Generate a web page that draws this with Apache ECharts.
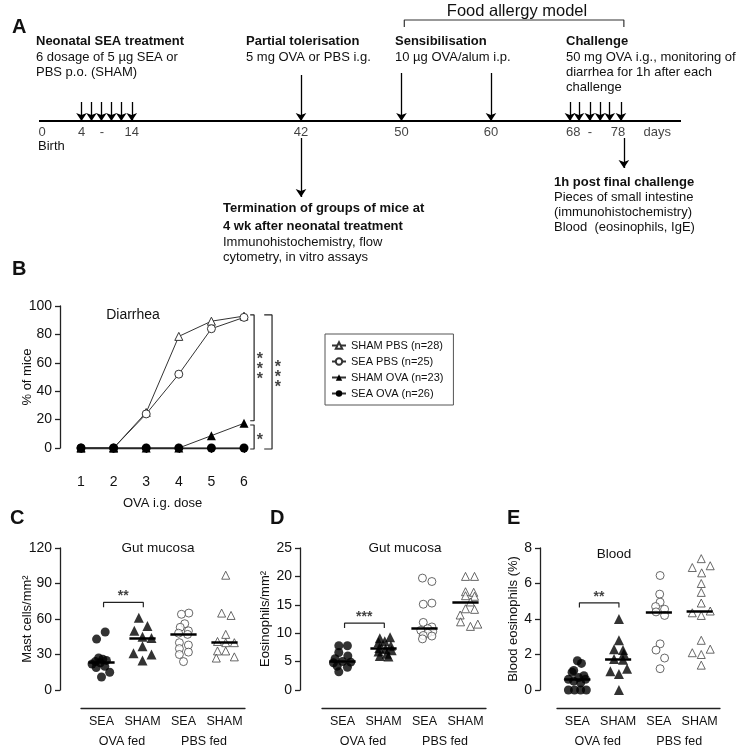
<!DOCTYPE html>
<html><head><meta charset="utf-8">
<script src="https://cdn.jsdelivr.net/npm/echarts@6/dist/echarts.min.js"></script>
<style>html,body{margin:0;padding:0;background:#fff}#c{width:743px;height:750px}</style>
</head><body><div id="c"></div>
<script>
// ---------- Panel A: timeline (schematic) ----------
const timelineTicks = ['0','4','-','14','42','50','60','68','-','78','days'];
const dosingDays = [4,6,8,10,12,14];
const challengeDays = [68,70,72,74,76,78];

// ---------- Panel B: diarrhea ----------
const doses = [1,2,3,4,5,6];
const shamPbs = [0,0,25,78.6,89.3,92.9];
const seaPbs  = [0,0,24,52,84,92];
const shamOva = [0,0,0,0,8.7,17.4];
const seaOva  = [0,0,0,0,0,0];
const legendNames = ['SHAM PBS (n=28)','SEA PBS (n=25)','SHAM OVA (n=23)','SEA OVA (n=26)'];

// ---------- Panels C-E: shared categories ----------
const groupLabels = ['SEA','SHAM','SEA','SHAM'];
const feedLabels = ['OVA fed','PBS fed'];

// C: mast cells / mm2
const mastSeaOva  = [49,43,27,26,25,24,23,22,20,19,15,11];
const mastShamOva = [61,54,50,45,44,37,31,30,25];
const mastSeaPbs  = [65,64,56,53,50,48,47,40,38,35,32,30,24];
const mastShamPbs = [97,65,63,47,41,40,40,33,33,28,27];
const mastSeaOvaJit  = [0.09,-0.12,-0.07,0.03,0.12,-0.15,-0.03,-0.23,0.08,-0.13,0.2,0];
const mastShamOvaJit = [-0.09,0.12,-0.2,0,0.22,0,-0.22,0.22,0];
const mastSeaPbsJit  = [0.13,-0.05,0.03,-0.08,0.12,-0.12,0.1,-0.1,0.12,-0.1,0.12,-0.1,0];
const mastShamPbsJit = [0.03,-0.07,0.16,0.03,-0.17,0.03,0.24,-0.17,0.03,0.24,-0.2];

// D: eosinophils / mm2
const eoSeaOva  = [7.8,7.8,6.6,6.0,5.5,5.0,4.9,4.8,4.2,4.0,3.2];
const eoShamOva = [9.3,9.1,8.6,8.4,7.8,7.4,7.2,7.0,6.8,6.4,6.0,5.9];
const eoSeaPbs  = [19.7,19.1,15.3,15.1,11.9,11.1,10.8,10.5,10.3,10.0,9.6,9.5,9.0];
const eoShamPbs = [20.0,20.0,17.3,17.2,16.6,16.5,15.5,14.3,14.2,13.2,12.0,11.6,11.2];
const eoSeaOvaJit  = [-0.09,0.12,-0.09,0.13,-0.18,0,0.2,-0.22,-0.13,0.12,-0.09];
const eoShamOvaJit = [0.16,-0.09,0.03,-0.12,0.18,-0.1,0.05,0.2,-0.12,0.08,-0.09,0.12];
const eoSeaPbsJit  = [-0.05,0.18,0.18,-0.03,-0.03,0.18,0.08,-0.09,0.2,0.08,-0.03,0.18,-0.05];
const eoShamPbsJit = [0,0.22,0,0.2,0,0.22,0.12,0,0.22,-0.13,-0.12,0.3,0.12];

// E: blood eosinophils (%)
const bloodSeaOva  = [1.65,1.5,1.1,1.0,0.8,0.7,0.6,0.6,0.5,0.4,0,0,0,0];
const bloodShamOva = [4.0,2.8,2.3,2.25,2.05,1.75,1.7,1.2,1.05,0.9,0];
const bloodSeaPbs  = [6.45,5.4,4.95,4.7,4.55,4.4,4.2,2.6,2.25,1.8,1.2];
const bloodShamPbs = [7.4,7.0,6.9,6.6,6.0,5.5,4.9,4.45,4.35,4.2,2.8,2.3,2.1,2.0,1.4];
const bloodSeaOvaJit  = [0,0.1,-0.09,-0.13,0.16,0.03,-0.22,0.2,-0.09,0.08,-0.22,-0.07,0.08,0.22];
const bloodShamOvaJit = [0.02,0.02,-0.1,0.12,0.14,-0.1,0.12,0.22,-0.19,0.02,0.02];
const bloodSeaPbsJit  = [0.03,0.02,0.03,-0.08,0.14,-0.07,0.14,0.03,-0.07,0.14,0.03];
const bloodShamPbsJit = [0.04,0.26,-0.18,0.05,0.04,0.04,0.04,0.26,-0.18,0.04,0.04,0.26,-0.18,0.04,0.04];

// ---------- layout (positions / styles, not data) ----------
const FF = '"Liberation Sans", Arial, Helvetica, sans-serif';
const INK = '#111';
const AX = '#222';
const L = {
  tlLineY: 121, tlLabelY: 132,
  tickPos: [0.47,6.62,9.8,14.45,40.81,56.46,70.4,83.2,85.8,90.2,96.3],
  dosePos: [6.62,8.18,9.72,11.28,12.82,14.45],
  challengePos: [82.7,84.1,85.8,87.4,88.9,90.65],
  tolerPos: 40.81, sensPos: [56.46,70.4], finalPos: 91.1,
  bracket: [56.9,91.1]
};

function median(a){const s=[...a].sort((x,y)=>x-y);const n=s.length;return n%2?s[(n-1)/2]:(s[n/2-1]+s[n/2])/2;}

const grids = [
  {left:39, top:0, width:642, height:250},
  {left:81, top:306, width:163, height:142},
  {left:81, top:548, width:164, height:142},
  {left:322, top:548, width:164, height:142},
  {left:557, top:548, width:163, height:142},
  // annotation overlay for panel B (same scale, wider range)
  {left:81, top:306, width:163*1.4, height:142*1.1}
].map(g=>Object.assign(g,{containLabel:false, outerBoundsMode:'none'}));

const xAxes = [
  {gridIndex:0, type:'value', min:0, max:100, show:false},
  {gridIndex:1, type:'value', min:1, max:6, interval:1, offset:22,
   axisLine:{show:true, lineStyle:{color:AX,width:1.3}}, axisTick:{show:true,length:5,lineStyle:{color:AX,width:1.3}},
   axisLabel:{fontSize:14, color:INK, margin:5, fontFamily:FF}, splitLine:{show:false},
   name:'OVA i.g. dose', nameLocation:'middle', nameGap:27, nameMoveOverlap:false,
   nameTextStyle:{fontSize:13, color:INK, fontFamily:FF}},
  {gridIndex:5, type:'value', min:1, max:8, show:false}
];
const yAxes = [
  {gridIndex:0, type:'value', min:0, max:250, inverse:true, show:false},
  {gridIndex:1, type:'value', min:0, max:100, interval:20, offset:21,
   axisLine:{show:true, lineStyle:{color:AX,width:1.3}}, axisTick:{show:true,length:5,lineStyle:{color:AX,width:1.3}},
   axisLabel:{fontSize:14, color:INK, margin:8, fontFamily:FF}, splitLine:{show:false},
   name:'% of mice', nameLocation:'middle', nameGap:26, nameRotate:90, nameMoveOverlap:false,
   nameTextStyle:{fontSize:13,color:INK,fontFamily:FF}},
  {gridIndex:5, type:'value', min:-10, max:100, show:false}
];

const panels = [
  {vals:[mastSeaOva,mastShamOva,mastSeaPbs,mastShamPbs], jit:[mastSeaOvaJit,mastShamOvaJit,mastSeaPbsJit,mastShamPbsJit],
   max:120, interval:30, name:'Mast cells/mm²', nameGap:26, title:'Gut mucosa', titleX:158, titleY:548, yOff:21,
   sig:{y:74, tick:70, text:'**'}},
  {vals:[eoSeaOva,eoShamOva,eoSeaPbs,eoShamPbs], jit:[eoSeaOvaJit,eoShamOvaJit,eoSeaPbsJit,eoShamPbsJit],
   max:25, interval:5, name:'Eosinophils/mm²', nameGap:28, title:'Gut mucosa', titleX:405, titleY:548, yOff:22,
   sig:{y:11.76, tick:10.9, text:'***'}},
  {vals:[bloodSeaOva,bloodShamOva,bloodSeaPbs,bloodShamPbs], jit:[bloodSeaOvaJit,bloodShamOvaJit,bloodSeaPbsJit,bloodShamPbsJit],
   max:8, interval:2, name:'Blood eosinophils (%)', nameGap:20, title:'Blood', titleX:614, titleY:554, yOff:17,
   sig:{y:4.91, tick:4.65, text:'**'}}
];

const markerStyles = [
  {symbol:'circle', size:9, itemStyle:{color:'#000'}},
  {symbol:'triangle', size:10, itemStyle:{color:'#000'}},
  {symbol:'circle', size:8, itemStyle:{color:'#fff', borderColor:'#444', borderWidth:1}},
  {symbol:'triangle', size:8, itemStyle:{color:'#fff', borderColor:'#444', borderWidth:1}}
];

const series = [];
// Panel A
series.push({type:'line', xAxisIndex:0, yAxisIndex:0, silent:true, symbol:'none',
  data:[[0,L.tlLineY],[100,L.tlLineY]], lineStyle:{color:'#000', width:2},
  markLine:{silent:true, symbol:['none','arrow'], symbolSize:8, label:{show:false},
    lineStyle:{color:'#000', width:1.3, type:'solid'},
    data:[].concat(
      L.dosePos.map(p=>[{coord:[p,102]},{coord:[p,L.tlLineY]}]),
      [[{coord:[L.tolerPos,75]},{coord:[L.tolerPos,L.tlLineY]}]],
      L.sensPos.map(p=>[{coord:[p,73]},{coord:[p,L.tlLineY]}]),
      L.challengePos.map(p=>[{coord:[p,102]},{coord:[p,L.tlLineY]}]),
      [[{coord:[L.tolerPos,138]},{coord:[L.tolerPos,197]}]],
      [[{coord:[L.finalPos,138]},{coord:[L.finalPos,168]}]]
    )}
});
series.push({type:'line', xAxisIndex:0, yAxisIndex:0, silent:true, symbol:'none',
  data:[[L.bracket[0],27],[L.bracket[0],20],[L.bracket[1],20],[L.bracket[1],27]], lineStyle:{color:'#333', width:1.2}});
series.push({type:'scatter', xAxisIndex:0, yAxisIndex:0, silent:true, symbolSize:0,
  data: timelineTicks.map((t,i)=>({name:t, value:[L.tickPos[i], L.tlLabelY]})),
  label:{show:true, position:'inside', formatter:'{b}', fontSize:13, color:INK, fontFamily:FF}});

// Panel B lines
const bSeries = [shamPbs, seaPbs, shamOva, seaOva];
const bMarkers = [
  {symbol:'triangle', size:8, itemStyle:{color:'#fff', borderColor:'#333', borderWidth:1}},
  {symbol:'circle', size:8, itemStyle:{color:'#fff', borderColor:'#333', borderWidth:1}},
  {symbol:'triangle', size:9, itemStyle:{color:'#000', borderColor:'#000', borderWidth:0}},
  {symbol:'circle', size:9, itemStyle:{color:'#000', borderColor:'#000', borderWidth:0}}
];
bSeries.forEach((arr,i)=>{
  series.push({type:'line', name:legendNames[i], xAxisIndex:1, yAxisIndex:1,
    data: doses.map((d,j)=>[d, arr[j]]), symbol:bMarkers[i].symbol, symbolSize:bMarkers[i].size,
    showAllSymbol:true, itemStyle:bMarkers[i].itemStyle, lineStyle:{color:'#333', width:1}, z:3+i});
});
// Panel B significance brackets (on the overlay axes, same data units)
const bBrackets = [
  {x:6.31, tx:6.19, y0:93.7, y1:19.2},
  {x:6.31, tx:6.19, y0:16.2, y1:-0.7},
  {x:6.86, tx:6.62, y0:93.7, y1:-0.7}
];
bBrackets.forEach(b=>{
  series.push({type:'line', xAxisIndex:2, yAxisIndex:2, silent:true, symbol:'none',
    data:[[b.tx,b.y0],[b.x,b.y0],[b.x,b.y1],[b.tx,b.y1]], lineStyle:{color:'#222', width:1.2}});
});
series.push({type:'scatter', xAxisIndex:2, yAxisIndex:2, silent:true, symbolSize:0,
  data:[{value:[6.49,55.5],name:'*\n*\n*'},{value:[6.49,5.5],name:'*'},{value:[7.04,49.5],name:'*\n*\n*'}],
  label:{show:true, position:'inside', formatter:'{b}', fontSize:16, fontWeight:'bold', lineHeight:10, color:INK, fontFamily:FF}});

// Panels C-E
panels.forEach((p,k)=>{
  const gi = 2+k;
  const xData = xAxes.length;
  xAxes.push({gridIndex:gi, type:'value', min:0.5, max:4.5, show:false, position:'bottom'});
  xAxes.push({gridIndex:gi, type:'category', data:groupLabels, position:'bottom', offset:18,
    axisLine:{show:true, lineStyle:{color:AX,width:1.3}}, axisTick:{show:false},
    axisLabel:{interval:0, fontSize:12.5, color:INK, margin:7, fontFamily:FF}});
  xAxes.push({gridIndex:gi, type:'category', data:feedLabels, position:'bottom', offset:18,
    axisLine:{show:false}, axisTick:{show:false},
    axisLabel:{interval:0, fontSize:12.5, color:INK, margin:27, fontFamily:FF}});
  const yi = yAxes.length;
  yAxes.push({gridIndex:gi, type:'value', min:0, max:p.max, interval:p.interval, offset:p.yOff,
    axisLine:{show:true, lineStyle:{color:AX,width:1.3}}, axisTick:{show:true,length:5,lineStyle:{color:AX,width:1.3}},
    axisLabel:{fontSize:14, color:INK, margin:8, fontFamily:FF}, splitLine:{show:false},
    name:p.name, nameLocation:'middle', nameGap:p.nameGap, nameRotate:90, nameMoveOverlap:false,
    nameTextStyle:{fontSize:13, color:INK, fontFamily:FF}});
  p.vals.forEach((vals,g)=>{
    const m = median(vals);
    const ms = markerStyles[g];
    series.push({type:'scatter', xAxisIndex:xData, yAxisIndex:yi, silent:true,
      data: vals.map((v,i)=>[g+1+p.jit[g][i], v]), symbol:ms.symbol, symbolSize:ms.size, itemStyle:ms.itemStyle, clip:false,
      markLine:{silent:true, symbol:['none','none'], label:{show:false}, lineStyle:{color:'#000', width:2.5, type:'solid'},
        data:[[{coord:[g+1-0.32, m]},{coord:[g+1+0.32, m]}]]}, z:3});
  });
  series.push({type:'line', xAxisIndex:xData, yAxisIndex:yi, silent:true, symbol:'none',
    data:[[1.05,p.sig.tick],[1.05,p.sig.y],[2.02,p.sig.y],[2.02,p.sig.tick]], lineStyle:{color:'#222', width:1.2}});
  series.push({type:'scatter', xAxisIndex:xData, yAxisIndex:yi, silent:true, symbolSize:0,
    data:[{value:[1.53,p.sig.y], name:p.sig.text}],
    label:{show:true, position:'top', distance:-1, formatter:'{b}', fontSize:14, fontWeight:'bold', color:INK, fontFamily:FF}});
});

// Text (annotations) via graphic
function T(x,y,text,opt){return {type:'text', x:x, y:y, silent:true,
  style:{text:text, fill:INK, font:(opt&&opt.font)||('13px '+FF), textAlign:(opt&&opt.align)||'left', textVerticalAlign:'middle'}};}
const B = 'bold 13px '+FF, R = '13px '+FF, P = 'bold 20px '+FF;
const graphic = [
  T(12,27,'A',{font:P}), T(12,269,'B',{font:P}), T(10,518,'C',{font:P}), T(270,518,'D',{font:P}), T(507,518,'E',{font:P}),
  T(517,11,'Food allergy model',{font:'16.5px '+FF, align:'center'}),
  T(36,41,'Neonatal SEA treatment',{font:B}), T(36,57,'6 dosage of 5 µg SEA or',{font:R}), T(36,72,'PBS p.o. (SHAM)',{font:R}),
  T(246,41,'Partial tolerisation',{font:B}), T(246,57,'5 mg OVA or PBS i.g.',{font:R}),
  T(395,41,'Sensibilisation',{font:B}), T(395,57,'10 µg OVA/alum i.p.',{font:R}),
  T(566,41,'Challenge',{font:B}), T(566,57,'50 mg OVA i.g., monitoring of',{font:R}),
  T(566,72,'diarrhea for 1h after each',{font:R}), T(566,87,'challenge',{font:R}),
  T(38,146,'Birth',{font:R}),
  T(223,208,'Termination of groups of mice at',{font:B}), T(223,226,'4 wk after neonatal treatment',{font:B}),
  T(223,242,'Immunohistochemistry, flow',{font:R}), T(223,257,'cytometry, in vitro assays',{font:R}),
  T(554,182,'1h post final challenge',{font:B}), T(554,197,'Pieces of small intestine',{font:R}),
  T(554,212,'(immunohistochemistry)',{font:R}), T(554,227,'Blood  (eosinophils, IgE)',{font:R}),
  T(133,315,'Diarrhea',{font:'14px '+FF, align:'center'})
].concat(panels.map(p=>T(p.titleX,p.titleY,p.title,{font:'13.5px '+FF, align:'center'})));

const option = {
  animation:false, backgroundColor:'#fff', textStyle:{fontFamily:FF},
  grid:grids, xAxis:xAxes, yAxis:yAxes,
  legend:{data:legendNames, orient:'vertical', left:325, top:334, itemWidth:14, itemHeight:8, itemGap:5,
    padding:[6,10,6,6], borderColor:'#555', borderWidth:1, borderRadius:0, backgroundColor:'#fff',
    selectedMode:false, textStyle:{fontSize:11, color:INK, fontFamily:FF}},
  graphic:graphic,
  series:series
};
const chart = echarts.init(document.getElementById('c'), null, {renderer:'canvas'});
chart.setOption(option);
</script></body></html>
